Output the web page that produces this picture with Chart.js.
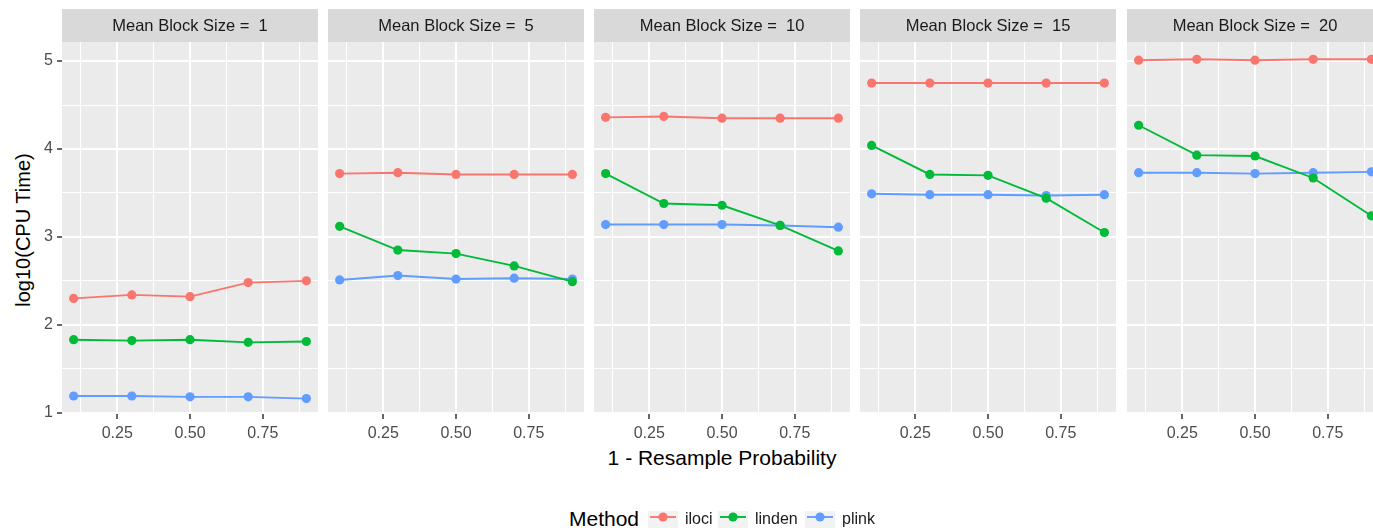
<!DOCTYPE html>
<html>
<head>
<meta charset="utf-8">
<script src="https://cdn.jsdelivr.net/npm/chart.js@4.4.1/dist/chart.umd.min.js"></script>
<style>
  html, body { margin: 0; padding: 0; background: #ffffff; overflow: hidden; }
  #wrap { position: relative; width: 1383px; height: 528px; font-family: 'Liberation Sans', Arial, sans-serif; }
  #wrap canvas { position: absolute; top: 0; }
  .ytitle { position: absolute; left: 23px; top: 230px; transform: translate(-50%, -50%) rotate(-90deg);
            font-size: 20px; color: #000; white-space: nowrap; line-height: 1; }
  .xtitle { position: absolute; left: 722px; top: 447px; transform: translateX(-50%);
            font-size: 21px; color: #000; white-space: nowrap; line-height: 21px; }
  .legtitle { position: absolute; left: 569px; top: 508px; font-size: 21px; color: #000; line-height: 21px; }
  .legkey { position: absolute; top: 511px; width: 30px; height: 17px; background: #F2F2F2; }
  .leglab { position: absolute; top: 510px; font-size: 16px; color: #1A1A1A; line-height: 17px; }
</style>
</head>
<body>
<div id="wrap">
  <div class="ytitle">log10(CPU Time)</div>
  <div class="xtitle">1 - Resample Probability</div>
  <div class="legtitle">Method</div>
</div>
<script>
// x positions (1 - resample probability) shared by every panel
const resampleX = [0.1, 0.3, 0.5, 0.7, 0.9];
// facet values: mean block size
const blockSizes = [1, 5, 10, 15, 20];
// log10 CPU time per method, one row per block size
const ilociTime = [
  [2.30, 2.34, 2.32, 2.48, 2.50],
  [3.72, 3.73, 3.71, 3.71, 3.71],
  [4.36, 4.37, 4.35, 4.35, 4.35],
  [4.75, 4.75, 4.75, 4.75, 4.75],
  [5.01, 5.02, 5.01, 5.02, 5.02]
];
const lindenTime = [
  [1.83, 1.82, 1.83, 1.80, 1.81],
  [3.12, 2.85, 2.81, 2.67, 2.49],
  [3.72, 3.38, 3.36, 3.13, 2.84],
  [4.04, 3.71, 3.70, 3.44, 3.05],
  [4.27, 3.93, 3.92, 3.67, 3.24]
];
const plinkTime = [
  [1.19, 1.19, 1.18, 1.18, 1.16],
  [2.51, 2.56, 2.52, 2.53, 2.52],
  [3.14, 3.14, 3.14, 3.13, 3.11],
  [3.49, 3.48, 3.48, 3.47, 3.48],
  [3.73, 3.73, 3.72, 3.73, 3.74]
];
const xTicks = [0.125, 0.25, 0.375, 0.5, 0.625, 0.75, 0.875];
const xTickLabels = { 0.25: '0.25', 0.5: '0.50', 0.75: '0.75' };
const yTicks = [1, 1.5, 2, 2.5, 3, 3.5, 4, 4.5, 5];
const yTickLabels = { 1: '1', 2: '2', 3: '3', 4: '4', 5: '5' };

const methods = [
  { name: 'iloci',  color: '#F8766D', values: ilociTime,  order: 2 },
  { name: 'linden', color: '#00BA38', values: lindenTime, order: 0 },
  { name: 'plink',  color: '#619CFF', values: plinkTime,  order: 1 }
];

const panelLefts = [62, 328, 594, 860, 1127];
const panelWidth = 256;
const panelTop = 42, panelBottom = 414, stripTop = 9;
const H = 528;

Chart.defaults.font.family = "'Liberation Sans', Arial, sans-serif";
Chart.defaults.font.size = 16;
Chart.defaults.color = '#4D4D4D';

// grey panel background + facet strip with its label
const facetPlugin = {
  id: 'facet',
  beforeDraw(chart, args, opts) {
    const { ctx, chartArea: a } = chart;
    ctx.save();
    ctx.fillStyle = '#EBEBEB';
    ctx.fillRect(a.left, a.top, a.right - a.left, a.bottom - a.top);
    ctx.fillStyle = '#D9D9D9';
    ctx.fillRect(a.left, stripTop, a.right - a.left, a.top - stripTop);
    ctx.fillStyle = '#1A1A1A';
    ctx.font = "16.5px 'Liberation Sans', Arial, sans-serif";
    ctx.textAlign = 'center';
    ctx.textBaseline = 'middle';
    ctx.fillText(opts.label, (a.left + a.right) / 2, (stripTop + a.top) / 2 + 1);
    ctx.restore();
  }
};

const wrap = document.getElementById('wrap');
const yAxisWidth = 62;
const xAxisHeight = 40;

blockSizes.forEach((bs, i) => {
  const first = i === 0;
  const canvas = document.createElement('canvas');
  const w = panelWidth + (first ? yAxisWidth : 0);
  canvas.width = w;
  canvas.height = H;
  canvas.style.left = (panelLefts[i] - (first ? yAxisWidth : 0)) + 'px';
  canvas.style.width = w + 'px';
  canvas.style.height = H + 'px';
  wrap.appendChild(canvas);

  const datasets = methods.map(m => ({
    label: m.name,
    data: resampleX.map((x, k) => ({ x: x, y: m.values[i][k] })),
    borderColor: m.color,
    backgroundColor: m.color,
    borderWidth: 1.9,
    pointRadius: 4.6,
    pointBorderWidth: 0,
    pointHoverRadius: 4.6,
    tension: 0,
    order: m.order
  }));

  new Chart(canvas, {
    type: 'line',
    data: { datasets },
    plugins: [facetPlugin],
    options: {
      responsive: false,
      animation: false,
      events: [],
      layout: { autoPadding: false, padding: { top: panelTop, bottom: H - panelBottom - xAxisHeight, left: 0, right: 0 } },
      plugins: {
        legend: { display: false },
        tooltip: { enabled: false },
        facet: { label: 'Mean Block Size =  ' + bs }
      },
      scales: {
        x: {
          type: 'linear',
          min: 0.06, max: 0.94,
          afterBuildTicks: s => { s.ticks = xTicks.map(v => ({ value: v })); },
          afterFit: s => { s.height = xAxisHeight; },
          ticks: {
            autoSkip: false, maxRotation: 0, minRotation: 0, padding: 5,
            color: '#4D4D4D',
            callback: v => xTickLabels[v] || ''
          },
          grid: {
            color: '#FFFFFF',
            lineWidth: c => (c.tick && xTickLabels[c.tick.value]) ? 2 : 1,
            tickLength: 5,
            tickWidth: 1.5,
            tickColor: c => (c.tick && xTickLabels[c.tick.value]) ? '#333333' : 'rgba(0,0,0,0)'
          },
          border: { display: false }
        },
        y: {
          type: 'linear',
          min: 0.985, max: 5.217,
          afterBuildTicks: s => { s.ticks = yTicks.map(v => ({ value: v })); },
          afterFit: s => { s.width = first ? yAxisWidth : 0; },
          ticks: {
            display: first, autoSkip: false, padding: 4,
            color: '#4D4D4D',
            callback: v => yTickLabels[v] || ''
          },
          grid: {
            color: '#FFFFFF',
            lineWidth: c => (c.tick && yTickLabels[c.tick.value]) ? 2 : 1,
            drawTicks: first,
            tickLength: 5,
            tickWidth: 1.5,
            tickColor: c => (c.tick && yTickLabels[c.tick.value]) ? '#333333' : 'rgba(0,0,0,0)'
          },
          border: { display: false }
        }
      }
    }
  });
});

// legend row: keys drawn as small inline svg marks
const legendItems = [
  { name: 'iloci',  color: '#F8766D', key: 648, text: 685 },
  { name: 'linden', color: '#00BA38', key: 718, text: 755 },
  { name: 'plink',  color: '#619CFF', key: 805, text: 842 }
];
legendItems.forEach(it => {
  const k = document.createElement('div');
  k.className = 'legkey';
  k.style.left = it.key + 'px';
  k.innerHTML = '<svg width="30" height="17"><line x1="2" y1="6" x2="28" y2="6" stroke="' + it.color +
    '" stroke-width="1.9"/><circle cx="15" cy="6" r="4.6" fill="' + it.color + '"/></svg>';
  wrap.appendChild(k);
  const t = document.createElement('div');
  t.className = 'leglab';
  t.style.left = it.text + 'px';
  t.textContent = it.name;
  wrap.appendChild(t);
});
</script>
</body>
</html>
